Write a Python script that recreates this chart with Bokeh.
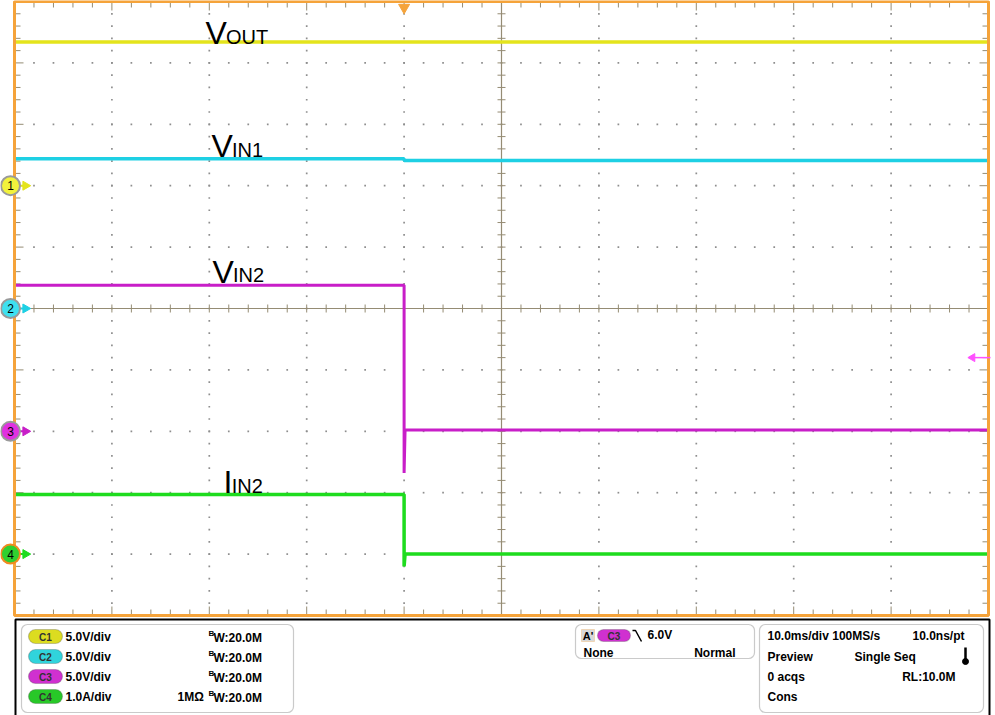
import numpy as np
from bokeh.plotting import figure
from bokeh.layouts import column
from bokeh.models import Range1d, BoxAnnotation
from bokeh.core.properties import value
from bokeh.embed import file_html
from bokeh.resources import INLINE

channel_names = ["1", "2", "3", "4"]
channel_offset_div = [2.0, 0.0, -2.0, -4.0]      # ground markers, divisions
channel_scale = [5.0, 5.0, 5.0, 1.0]             # V/div, V/div, V/div, A/div

t_vout = [-40.0, 0.0, 60.0]                      # ms
vout = [11.7, 11.7, 11.7]                        # V

t_vin1 = [-40.0, 0.0, 0.0, 60.0]
vin1 = [12.2, 12.2, 12.05, 12.05]                # V

t_vin2 = [-40.0, 0.0, 0.0, 0.1, 60.0]
vin2 = [11.9, 11.9, -3.4, 0.1, 0.1]              # V

t_iin2 = [-40.0, 0.0, 0.0, 0.1, 60.0]
iin2 = [0.97, 0.97, -0.2, 0.0, 0.0]              # A

trigger_time_ms = 0.0
trigger_level_v = 6.0                            # on C3

trace_main = ["V", "V", "V", "I"]
trace_sub = ["OUT", "IN1", "IN2", "IN2"]

# ---------------- geometry ----------------
PX_MS = 9.74      # pixels per ms  (97.4 px / 10 ms div)
PX_DIV = 61.4     # pixels per vertical division
X_LEFT, X_RIGHT = -40.0, 60.0
Y_BOT, Y_TOP = -5.0, 5.0

ORANGE = "#F5A33A"
colors = ["#E4E41C", "#1ED0E4", "#C81EC8", "#1EDC1E"]
marker_fill = ["#F2F23C", "#3EE0F0", "#E030E0", "#30D030"]
marker_line = ["#9A9A9A", "#9A9A9A", "#9A9A9A", "#F08A20"]

W, H = 995, 617
x0 = X_LEFT - 14 / PX_MS
x1 = x0 + W / PX_MS
y1 = 308 / PX_DIV
y0 = y1 - H / PX_DIV

p = figure(width=W, height=H, x_range=Range1d(x0, x1), y_range=Range1d(y0, y1),
           output_backend="svg", toolbar_location=None, min_border=0,
           x_axis_location=None, y_axis_location=None)
p.grid.visible = False
p.outline_line_color = None
p.background_fill_color = "white"
p.border_fill_color = "white"

# ---- graticule ----
minor_x = np.arange(X_LEFT, X_RIGHT + 1e-9, 2.0)
minor_y = np.arange(Y_BOT, Y_TOP + 1e-9, 0.2)
major_x = np.arange(X_LEFT + 10, X_RIGHT - 1e-9, 10.0)
major_y = np.arange(Y_BOT + 1, Y_TOP - 1e-9, 1.0)
cx, cy = 10.0, 0.0

dx, dy = [], []
for mx in major_x:
    if abs(mx - cx) < 1e-6:
        continue
    for my in minor_y[1:-1]:
        dx.append(mx); dy.append(my)
for my in major_y:
    if abs(my - cy) < 1e-6:
        continue
    for mx in minor_x[1:-1]:
        dx.append(mx); dy.append(my)
p.scatter(dx, dy, marker="square", size=1.7, fill_color="#8E8E8E", line_color=None)

GRAT = "#958C74"
p.segment([cx], [Y_BOT], [cx], [Y_TOP], line_color=GRAT, line_width=1.2)
p.segment([X_LEFT], [cy], [X_RIGHT], [cy], line_color=GRAT, line_width=1.2)
tx = 4 / PX_MS
ty = 4 / PX_DIV
p.segment([cx - tx] * len(minor_y), list(minor_y), [cx + tx] * len(minor_y), list(minor_y),
          line_color=GRAT, line_width=1)
p.segment(list(minor_x), [cy - ty] * len(minor_x), list(minor_x), [cy + ty] * len(minor_x),
          line_color=GRAT, line_width=1)

# edge ticks
def is_major(v, step):
    return abs(v / step - round(v / step)) < 1e-6

ex0, ey0, ex1, ey1 = [], [], [], []
for mx in minor_x[1:-1]:
    L = (9 if is_major(mx, 10) else 6) / PX_DIV
    ex0 += [mx, mx]; ey0 += [Y_TOP, Y_BOT]; ex1 += [mx, mx]; ey1 += [Y_TOP - L, Y_BOT + L]
for my in minor_y[1:-1]:
    L = (9 if is_major(my, 1) else 6) / PX_MS
    ex0 += [X_LEFT, X_RIGHT]; ey0 += [my, my]; ex1 += [X_LEFT + L, X_RIGHT - L]; ey1 += [my, my]
p.segment(ex0, ey0, ex1, ey1, line_color=GRAT, line_width=1)

# ---- traces ----
def to_div(vals, ch):
    return [channel_offset_div[ch] + v / channel_scale[ch] for v in vals]

p.line(t_vout, to_div(vout, 0), line_color=colors[0], line_width=3.5)
p.line(t_vin1, to_div(vin1, 1), line_color=colors[1], line_width=3.5)
p.line(t_vin2, to_div(vin2, 2), line_color=colors[2], line_width=3.0)
p.line(t_iin2, to_div(iin2, 3), line_color=colors[3], line_width=3.5)

# trace labels
lab_x = [-20.39, -19.77, -19.67, -18.54]
lab_y = [4.48, 2.64, 0.60, -2.83]
sub_dx = [2.1, 2.1, 2.1, 0.85]
p.text(lab_x, lab_y, text=trace_main, text_font=value("Liberation Sans"),
       text_font_size="32px", text_color="black", text_baseline="alphabetic", text_align="left")
p.text([a + b for a, b in zip(lab_x, sub_dx)], [y - 0.06 for y in lab_y], text=trace_sub,
       text_font=value("Liberation Sans"), text_font_size="20px", text_color="black",
       text_baseline="alphabetic", text_align="left")

# orange screen border
p.quad(left=[X_LEFT], right=[X_RIGHT], bottom=[Y_BOT], top=[Y_TOP],
       fill_color=None, line_color=ORANGE, line_width=3)

# channel ground markers
mk_x = X_LEFT - 4 / PX_MS
arr_x0 = X_LEFT + 3 / PX_MS
arr_x1 = X_LEFT + 11 / PX_MS
head_x = X_LEFT + 11 / PX_MS
p.segment([arr_x0] * 4, channel_offset_div, [arr_x1] * 4, channel_offset_div,
          line_color=colors, line_width=2)
p.scatter([head_x] * 4, channel_offset_div, marker="triangle", angle=-np.pi / 2, size=9,
          fill_color=colors, line_color=colors)
p.scatter([mk_x] * 4, channel_offset_div, marker="circle", size=19,
          fill_color=marker_fill, line_color=marker_line, line_width=2)
p.text([mk_x] * 4, channel_offset_div, text=channel_names, text_font=value("Liberation Sans"),
       text_font_size="12px", text_align="center", text_baseline="middle", text_color="black")

# trigger position marker (top) and trigger level arrow (right)
p.scatter([trigger_time_ms], [Y_TOP - 6 / PX_DIV], marker="inverted_triangle", size=11,
          fill_color=ORANGE, line_color=ORANGE)
lvl = channel_offset_div[2] + trigger_level_v / channel_scale[2]
p.segment([X_RIGHT - 16 / PX_MS], [lvl], [X_RIGHT + 2 / PX_MS], [lvl], line_color="#FF50FF", line_width=1.5)
p.scatter([X_RIGHT - 16 / PX_MS], [lvl], marker="triangle", angle=np.pi / 2, size=8,
          fill_color="#FF50FF", line_color="#FF50FF")

# ---------------- bottom info panel ----------------
q = figure(width=W, height=98, x_range=Range1d(0, 995), y_range=Range1d(0, 98),
           output_backend="svg", toolbar_location=None, min_border=0,
           x_axis_location=None, y_axis_location=None)
q.grid.visible = False
q.outline_line_color = None
q.background_fill_color = "white"
q.border_fill_color = "white"

def Y(sy):
    return 715 - sy

# outer black frame
q.line([15, 15, 989, 989], [Y(717), Y(619), Y(619), Y(717)], line_color="black", line_width=2)

def rbox(l, t, r, b, fill=None, line="#505050", lw=1.2, radius=6):
    q.add_layout(BoxAnnotation(left=l, right=r, top=Y(t), bottom=Y(b), fill_color=fill,
                               fill_alpha=1.0 if fill else 0.0, line_color=line,
                               line_width=lw, border_radius=radius, level="underlay"))

rbox(21, 624, 293, 712)
rbox(575, 624, 754, 658)
rbox(759, 624, 983, 712)

FONT = value("Liberation Sans")

def txt(x, sy, s, align="left", size="12px", bold=True, color="black"):
    q.text([x], [Y(sy)], text=[s], text_font=FONT, text_font_size=size,
           text_font_style="bold" if bold else "normal", text_align=align,
           text_baseline="middle", text_color=color)

pill_cols = ["#DCDC20", "#30D4DC", "#D030D0", "#28C828"]
scales_txt = ["5.0V/div", "5.0V/div", "5.0V/div", "1.0A/div"]
rows = [636, 656, 676, 696]
for i, sy in enumerate(rows):
    rbox(28, sy - 7, 62, sy + 7, fill=pill_cols[i], line="#555555", lw=1.2, radius=7)
    txt(45, sy + 0.5, "C%d" % (i + 1), align="center", size="10px", color="#333333")
    txt(65, sy, scales_txt[i])
    txt(208, sy - 3, "B", size="8px")
    txt(213, sy + 1, "W:20.0M")
txt(177, rows[3], "1M\u03a9")

# trigger box
rbox(581, 629, 594, 641, fill="#D8D8D8", line=ORANGE, lw=1, radius=0)
txt(587.5, 635, "A'", align="center", size="11px")
rbox(597, 629, 630, 641, fill="#D030D0", line="#555555", lw=1.2, radius=7)
txt(613.5, 635.5, "C3", align="center", size="10px", color="#333333")
q.line([632, 635, 641], [Y(630), Y(630), Y(641)], line_color="black", line_width=1.5)
txt(647, 634, "6.0V")
txt(583, 652, "None")
txt(735, 652, "Normal", align="right")

# timebase box
txt(767, 635, "10.0ms/div 100MS/s")
txt(964, 635, "10.0ns/pt", align="right")
txt(767, 656, "Preview")
txt(854, 656, "Single Seq")
txt(767, 676, "0 acqs")
txt(955, 676, "RL:10.0M", align="right")
txt(767, 696, "Cons")
# thermometer icon
q.line([965, 965], [Y(647), Y(659)], line_color="black", line_width=2.5)
q.scatter([965], [Y(661)], marker="circle", size=6, fill_color="black", line_color="black")

layout = column(p, q, spacing=0)
open("out.html", "w").write(file_html(layout, INLINE))
